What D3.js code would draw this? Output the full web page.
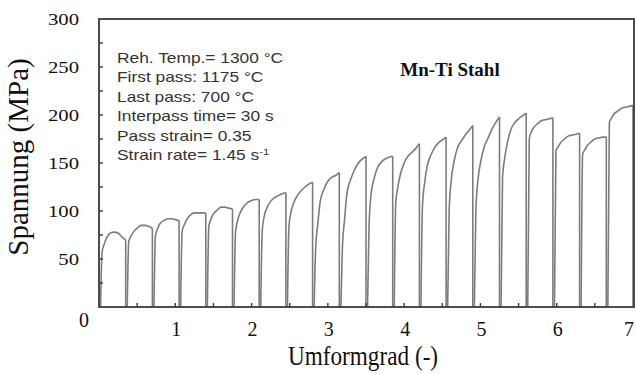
<!DOCTYPE html>
<html>
<head>
<meta charset="utf-8">
<script src="https://cdn.jsdelivr.net/npm/d3@7/dist/d3.min.js"></script>
<style>
  html, body { margin: 0; padding: 0; background: #fff; }
  svg { display: block; }
</style>
</head>
<body>
<svg id="chart" width="636" height="374"></svg>
<script>
// Multi-pass hot torsion flow curves: 20 passes of 0.35 strain each
const passStrain = 0.35;
const passCount = 20;
// strain offsets inside one pass at which the stress is sampled
const sampleOffsets = [0.04, 0.07, 0.10, 0.15, 0.20, 0.25, 0.30, 0.35];
// stress (MPa) of each pass at the offsets above
const passStress = [
  [57, 66, 72, 77, 78, 77, 73, 70],
  [68, 74, 78, 82, 85, 85, 84, 82],
  [74, 82, 87, 90, 92, 92, 91, 90],
  [79, 86, 91, 96, 98, 98, 98, 98],
  [84, 92, 97, 101, 104, 104, 103, 102],
  [78, 91, 98, 105, 109, 111, 112, 112],
  [80, 96, 103, 110, 114, 116, 118, 119],
  [84, 100, 108, 116, 121, 125, 128, 130],
  [60, 88, 110, 123, 131, 135, 137, 140],
  [60, 92, 118, 133, 143, 150, 154, 157],
  [85, 120, 132, 145, 151, 154, 156, 157],
  [108, 126, 138, 150, 157, 161, 165, 170],
  [105, 130, 146, 158, 166, 171, 174, 177],
  [100, 134, 150, 166, 173, 179, 184, 189],
  [100, 134, 150, 167, 176, 185, 192, 198],
  [135, 156, 170, 185, 192, 196, 199, 202],
  [175, 183, 187, 191, 194, 195, 196, 197],
  [163, 167, 171, 175, 178, 179, 180, 181],
  [159, 164, 168, 172, 175, 176, 177, 177],
  [192, 197, 201, 204, 207, 208, 209, 210]
];
const xTicks = [1, 2, 3, 4, 5, 6, 7];
const yTicks = [50, 100, 150, 200, 250, 300];
const xMinorStep = 0.5;
const yMinorStep = 25;
const infoLines = [
  "Reh. Temp.= 1300 °C",
  "First pass: 1175 °C",
  "Last pass: 700 °C",
  "Interpass time= 30 s",
  "Pass strain= 0.35"
];

const svg = d3.select("#chart");
const x = d3.scaleLinear().domain([0, 7]).range([99, 633]);
const y = d3.scaleLinear().domain([0, 300]).range([307, 19]);
const serif = "'Liberation Serif', 'Times New Roman', serif";
const sans = "'Liberation Sans', Arial, sans-serif";

// flow curves
const line = d3.line().x(d => x(d[0])).y(d => y(d[1])).curve(d3.curveMonotoneX);
const curves = svg.append("g").attr("fill", "none").attr("stroke", "#7c7c7c")
  .attr("stroke-width", 1.6).attr("stroke-linejoin", "round");
for (let i = 0; i < passCount; i++) {
  const start = i * passStrain;
  const vals = passStress[i];
  const pts = [[start + 0.02, 0]].concat(sampleOffsets.map((o, k) => [start + o, vals[k]]));
  curves.append("path").attr("d", line(pts));
  const end = start + passStrain;
  curves.append("line")
    .attr("x1", x(end)).attr("x2", x(end))
    .attr("y1", y(vals[vals.length - 1])).attr("y2", y(0));
}

// frame
svg.append("rect")
  .attr("x", x(0)).attr("y", y(300))
  .attr("width", x(7) - x(0) + 1).attr("height", y(0) - y(300))
  .attr("fill", "none").attr("stroke", "#3a3a3a").attr("stroke-width", 1.8);

// inward minor ticks
const xMinor = d3.range(xMinorStep, 7, xMinorStep);
svg.append("g").selectAll("line").data(xMinor).join("line")
  .attr("x1", d => x(d)).attr("x2", d => x(d))
  .attr("y1", y(0)).attr("y2", y(0) - 4)
  .attr("stroke", "#3a3a3a").attr("stroke-width", 1.4);
const yMinor = d3.range(yMinorStep, 300, yMinorStep);
svg.append("g").selectAll("line").data(yMinor).join("line")
  .attr("x1", x(0)).attr("x2", x(0) + 4)
  .attr("y1", d => y(d)).attr("y2", d => y(d))
  .attr("stroke", "#3a3a3a").attr("stroke-width", 1.4);

// y tick labels
svg.append("g").selectAll("text").data(yTicks).join("text")
  .attr("transform", d => `translate(79,${y(d)}) scale(1.22,1)`)
  .attr("text-anchor", "end").attr("dy", "0.35em")
  .attr("font-family", serif).attr("font-size", 17).attr("fill", "#111")
  .text(d => d);

// x tick labels (the last one is kept inside the canvas edge)
svg.append("g").selectAll("text").data(xTicks).join("text")
  .attr("x", d => Math.min(x(d) + 1, 629)).attr("y", 336)
  .attr("text-anchor", "middle")
  .attr("font-family", serif).attr("font-size", 20).attr("fill", "#111")
  .text(d => d);
// shared origin label
svg.append("text").attr("x", 84).attr("y", 327).attr("text-anchor", "middle")
  .attr("font-family", serif).attr("font-size", 20).attr("fill", "#111").text("0");

// axis titles
svg.append("text")
  .attr("transform", `translate(${(x(0) + x(7)) / 2 - 3},365) scale(0.86,1)`)
  .attr("text-anchor", "middle")
  .attr("font-family", serif).attr("font-size", 27).attr("fill", "#111")
  .text("Umformgrad (-)");
svg.append("text")
  .attr("transform", "translate(28,157) rotate(-90)")
  .attr("text-anchor", "middle")
  .attr("font-family", serif).attr("font-size", 29).attr("fill", "#111")
  .text("Spannung (MPa)");

// test conditions
const info = svg.append("g").attr("transform", "translate(117,0) scale(1.24,1)")
  .attr("font-family", sans).attr("font-size", 14).attr("fill", "#333");
infoLines.forEach((t, i) => {
  info.append("text").attr("x", 0).attr("y", 63 + i * 19.5).text(t);
});
const rate = info.append("text").attr("x", 0).attr("y", 63 + 5 * 19.5);
rate.append("tspan").text("Strain rate= 1.45 s");
rate.append("tspan").attr("dy", -5).attr("font-size", 9).text("-1");

// material label
svg.append("text").attr("x", 450).attr("y", 76).attr("text-anchor", "middle")
  .attr("font-family", serif).attr("font-weight", "bold").attr("font-size", 19)
  .attr("fill", "#111").text("Mn-Ti Stahl");
</script>
</body>
</html>
